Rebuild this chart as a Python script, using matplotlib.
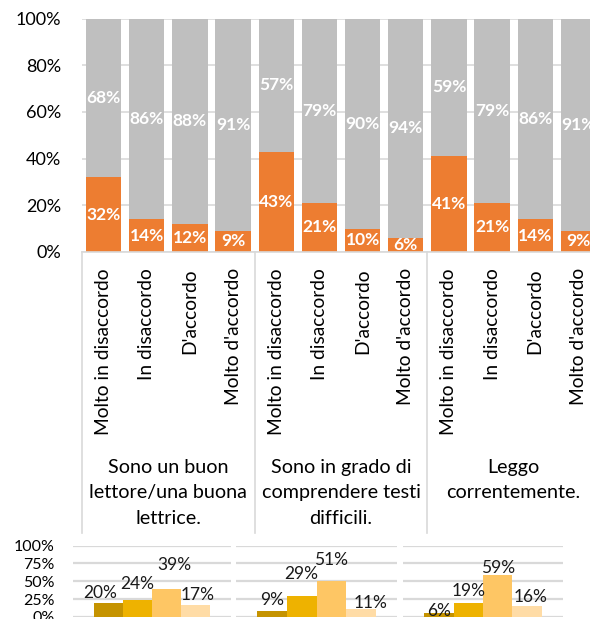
import matplotlib.pyplot as plt
import numpy as np

plt.rcParams['font.family'] = ['Lato', 'DejaVu Sans']

# risposte per ciascuna affermazione
risposte = ["Molto in disaccordo", "In disaccordo", "D'accordo", "Molto d'accordo"]
affermazioni = ["Sono un buon\nlettore/una buona\nlettrice.",
                "Sono in grado di\ncomprendere testi\ndifficili.",
                "Leggo\ncorrentemente."]

# quota (%) nella parte bassa (arancio) e alta (grigio) di ogni barra
quota_sotto = [32, 14, 12, 9, 43, 21, 10, 6, 41, 21, 14, 9]
quota_sopra = [68, 86, 88, 91, 57, 79, 90, 94, 59, 79, 86, 91]

# distribuzione delle risposte per affermazione (grafici piccoli)
distribuzione = [[20, 24, 39, 17],
                 [9, 29, 51, 11],
                 [6, 19, 59, 16]]

ARANCIO = '#ED7D31'
GRIGIO = '#BFBFBF'
GRIGLIA = '#D9D9D9'
ORI = ['#C59300', '#EEB200', '#FEC664', '#FFDCA6']

W, H = 590, 619
fig = plt.figure(figsize=(W / 100, H / 100), dpi=100)


def box(x0, y_top, x1, y_bot):
    # rettangolo in pixel (origine in alto a sinistra) -> coordinate figura
    return [x0 / W, 1 - y_bot / H, (x1 - x0) / W, (y_bot - y_top) / H]


# ---- grafico principale ----
ax = fig.add_axes(box(82, 18.5, 600, 252))
x = np.arange(len(quota_sotto))
ax.bar(x, quota_sotto, width=0.82, color=ARANCIO, zorder=2)
ax.bar(x, quota_sopra, width=0.82, bottom=quota_sotto, color=GRIGIO, zorder=2)

for xi, a, b in zip(x, quota_sotto, quota_sopra):
    ax.text(xi, a / 2, f'{a}%', ha='center', va='center', color='white',
            fontweight='bold', fontsize=12.5, zorder=3, clip_on=True)
    ax.text(xi, a + b / 2, f'{b}%', ha='center', va='center', color='white',
            fontweight='bold', fontsize=12.5, zorder=3, clip_on=True)

ax.set_xlim(-0.5, 11.5)
ax.set_ylim(0, 100)
ax.set_yticks(np.arange(0, 101, 20))
ax.set_yticklabels([f'{v}%' for v in range(0, 101, 20)])
ax.tick_params(axis='y', length=0, pad=15, labelsize=13)
ax.set_xticks([])
ax.grid(axis='y', color=GRIGLIA, linewidth=1.2, zorder=0)
for s in ['top', 'right', 'left']:
    ax.spines[s].set_visible(False)
ax.spines['bottom'].set_color(GRIGLIA)
ax.spines['bottom'].set_linewidth(1.2)

tr = ax.get_xaxis_transform()
for k, xi in enumerate(x):
    ax.text(xi, -0.07, risposte[k % 4], rotation=90, ha='center', va='top',
            fontsize=13.8, transform=tr, clip_on=False)

for g, testo in enumerate(affermazioni):
    ax.text(g * 4 + 1.5, -0.885, testo, ha='center', va='top', fontsize=14.2,
            linespacing=1.62, transform=tr, clip_on=False)
    ax.plot([g * 4 - 0.5] * 2, [0, -1.203], color=GRIGLIA, linewidth=1.2,
            transform=tr, clip_on=False)
ax.plot([11.5] * 2, [0, -1.203], color=GRIGLIA, linewidth=1.2,
        transform=tr, clip_on=False)

# ---- grafici piccoli ----
spazi = [(73, 231), (236, 397), (403, 563)]
spost = [[(-8, 10), (0, 16), (8, 24), (2, 10)],
         [(0, 11), (0, 22), (0, 21), (10, 6)],
         [(0, 2), (0, 12), (0, 7), (3, 9)]]
larg = 0.184
for g, (x0, x1) in enumerate(spazi):
    axp = fig.add_axes(box(x0, 545.5, x1, 617))
    pos = (np.arange(4) - 1.5) * larg
    axp.bar(pos, distribuzione[g], width=larg, color=ORI, zorder=2)
    for p, v, (dx, dy) in zip(pos, distribuzione[g], spost[g]):
        axp.annotate(f'{v}%', (p, v), xytext=(dx, dy),
                     textcoords='offset pixels', ha='center', va='center',
                     fontsize=12.5, color='#1a1a1a', annotation_clip=False)
    axp.set_xlim(-0.5, 0.5)
    axp.set_ylim(0, 100)
    axp.set_yticks(np.arange(0, 101, 25))
    axp.set_xticks([])
    axp.grid(axis='y', color=GRIGLIA, linewidth=1.6, zorder=0)
    for s in axp.spines.values():
        s.set_visible(False)
    if g == 0:
        axp.set_yticklabels([f'{v}%' for v in range(0, 101, 25)])
        axp.tick_params(axis='y', length=0, pad=13, labelsize=11.5)
    else:
        axp.tick_params(axis='y', length=0, labelleft=False)

fig.savefig('out.png', dpi=100)
